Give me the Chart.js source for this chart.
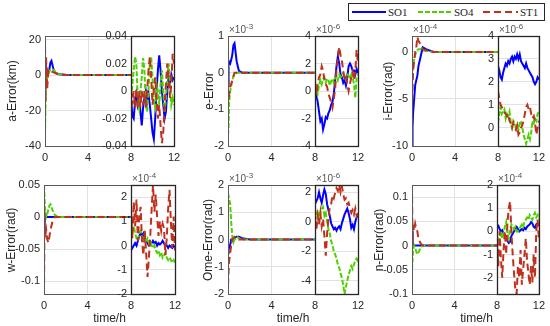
<!DOCTYPE html>
<html>
<head>
<meta charset="utf-8">
<script src="https://cdn.jsdelivr.net/npm/chart.js@4.4.1/dist/chart.umd.min.js"></script>
<style>
  body { margin: 0; background: #fff; }
  #wrap { position: relative; width: 550px; height: 326px; overflow: hidden;
          font-family: "Liberation Sans", Arial, sans-serif; color: #262626; }
  canvas { position: absolute; left: 0; top: 0; }
  .ylab { position: absolute; font-size: 12px; white-space: nowrap;
          transform: translate(-50%, -50%) rotate(-90deg); }
  .xlab { position: absolute; font-size: 12px; white-space: nowrap; transform: translate(-50%, -50%); }
  .exp { position: absolute; font-size: 10px; line-height: 12px; color: #555; white-space: nowrap; }
  .exp sup { font-size: 8px; line-height: 0; vertical-align: 4px; }
  #legend { position: absolute; left: 348px; top: 3px; width: 195px; height: 16px;
            border: 1px solid #262626; background: #fff;
            font-family: "Liberation Serif", "Times New Roman", serif; font-size: 11px; }
  #legend span { position: absolute; top: 1px; line-height: 14px; }
  #legend svg { position: absolute; left: 0; top: 0; }
</style>
</head>
<body>
<div id="wrap">
  <div id="legend">
    <svg width="195" height="16">
      <line x1="3" y1="8" x2="37" y2="8" stroke="#0000ff" stroke-width="2"/>
      <line x1="69" y1="8" x2="104" y2="8" stroke="#4fd000" stroke-width="2" stroke-dasharray="5,2"/>
      <line x1="134" y1="8" x2="169" y2="8" stroke="#c0301c" stroke-width="2" stroke-dasharray="7,4"/>
    </svg>
    <span style="left:39px">SO1</span>
    <span style="left:105px">SO4</span>
    <span style="left:171px">ST1</span>
  </div>
</div>
<script>
// series names
const seriesNames = ['SO1', 'SO4', 'ST1'];

// time axes (hours)
const mainT = [0, 0.05, 0.1, 0.2, 0.3, 0.4, 0.5, 0.6, 0.8, 1.0, 1.3, 2, 8];
const insetT = [8, 8.125, 8.25, 8.375, 8.5, 8.625, 8.75, 8.875, 9, 9.125, 9.25, 9.375, 9.5, 9.625, 9.75, 9.875,
  10, 10.125, 10.25, 10.375, 10.5, 10.625, 10.75, 10.875, 11, 11.125, 11.25, 11.375, 11.5, 11.625, 11.75, 11.875, 12];

// a-Error (km)
const aMainSO1 = [0, 7, 5, 2, 1, 3, 7, 8, 3, 1, 0.5, 0, 0];
const aMainSO4 = [-35, -15, -5, -2, 0, 2, 3, 3, 3, 1.5, 0.5, 0, 0];
const aMainST1 = [22, -15, 10, -8, 2, 1, 2, 2, 1.5, 1, 0.5, 0, 0];
const aInsetSO1 = [-0.005, -0.018, -0.02, -0.008, -0.002, -0.01, -0.005, -0.015, -0.025, -0.012, -0.005, 0, -0.008, -0.002, -0.01, -0.02,
  -0.03, -0.035, -0.02, 0, 0.015, 0.026, 0.015, 0, -0.01, -0.02, -0.015, 0, 0.01, 0.005, 0.012, 0.008, 0.01];
const aInsetSO4 = [-0.01, 0.005, 0.015, 0.025, 0.02, -0.005, -0.012, 0, 0.01, 0.024, 0.015, -0.01, -0.015, 0, 0.02, 0.025,
  0.01, -0.008, -0.012, 0.005, 0, -0.01, 0.005, 0.015, 0, -0.015, -0.005, 0.01, 0.02, 0.005, -0.01, -0.005, -0.01];
const aInsetST1 = [0, -0.01, 0, -0.012, 0.002, -0.012, 0, -0.012, 0, -0.01, 0, -0.012, 0, 0.015, 0.025, 0.01,
  -0.01, 0, 0.01, -0.005, -0.02, -0.01, -0.025, -0.038, -0.03, -0.01, 0.005, 0.02, 0.01, -0.005, 0.005, 0.027, 0.02];

// e-Error (main x1e-3, inset x1e-6)
const eMainSO1 = [-0.3, 0.25, 0.3, 0.25, 0.35, 0.5, 0.75, 0.8, 0.3, 0.05, 0, 0, 0];
const eMainSO4 = [-1.7, -1.5, -0.8, -0.5, -0.35, -0.2, -0.1, -0.05, 0, 0, 0, 0, 0];
const eMainST1 = [0.1, -0.4, -0.6, -0.4, -0.3, -0.2, -0.1, 0, 0, 0, 0, 0, 0];
const eInsetSO1 = [0, -0.3, -0.8, -1.5, -2.2, -2, -2.8, -2.4, -1.9, -2, -1.6, -1.4, -1, -0.8, -0.2, 0.8,
  1.8, 2.5, 2, 1.2, 1, 0.6, 0.8, 0.4, 1, 1.8, 2, 1.8, 1.5, 1.5, 1.2, 1.6, 1.3];
const eInsetSO4 = [0, 0.3, -0.2, 0.4, 0.8, 0.5, 0.9, 1, 0.6, 0.9, 0.8, 0.4, 0.7, 0.9, 0.6, 1,
  1.1, 0.8, 1.2, 1, 1.1, 1.3, 1, 0.8, 1.2, 1.1, 0.9, 1.2, 1, 0.5, -0.5, 1, 1.2];
const eInsetST1 = [0.2, -0.3, 0.5, 1, 1.2, 1.8, 1.5, 0.8, 0.5, 0.3, -0.2, -0.5, -0.8, -1.2, -0.6, 0.2,
  1.5, 2.5, 3.2, 2.6, 2.2, 1.5, 0.8, 1, 0.5, 0, 0.5, 1, 1.4, 0.8, 1.5, 3, 2];

// i-Error (main x1e-4, inset x1e-6)
const iMainSO1 = [-10, -8, -6.5, -5, -3.5, -3, -2.5, -1.5, -0.5, 0.5, 0.3, 0, 0];
const iMainSO4 = [-1.5, -2.5, -1.5, -0.8, -0.3, 0, 0.2, 0.3, 0.3, 0.2, 0.1, 0, 0];
const iMainST1 = [-6.5, -4, -2, -1, 0, 0.5, 1.6, 1.2, 0.8, 0.3, 0.2, 0, 0];
const iInsetSO1 = [2.7, 2.5, 2.2, 2.1, 2.4, 2.6, 2.8, 2.7, 2.9, 2.8, 3, 3.1, 2.9, 3.1, 3, 3.2,
  3, 3.2, 2.9, 2.8, 2.7, 2.6, 2.8, 2.6, 2.5, 2.4, 2.3, 2.2, 2, 1.9, 2, 2.2, 2.1];
const iInsetSO4 = [0.2, 0.6, 0.9, 0.6, 0.7, 0.8, 0.4, 0.6, 0.5, 0.7, 0.2, 0, 0.3, 0.2, 0, 0.1,
  -0.1, 0.2, 0.3, 0, -0.3, -0.5, -0.7, -0.5, -0.3, -0.5, -0.2, 0.3, 0.2, 0.4, 0.3, 0.6, 0.7];
const iInsetST1 = [1.6, 1.3, 1, 0.9, 0.8, 0.7, 0.6, 0.5, 0.6, 0.3, 0.2, 0, 0.2, 0, -0.1, 0.1,
  -0.3, -0.2, 0, 0.1, 0.3, 0.6, 0.9, 1, 0.8, 0.9, 0.6, 0.4, 0.5, 0.2, -0.3, 0, 0.3];

// w-Error (main rad, inset x1e-4)
const wMainSO1 = [-0.03, -0.01, 0, 0.002, 0, 0, 0, 0, 0, 0, 0, 0, 0];
const wMainSO4 = [0.05, 0.03, 0.01, 0, 0.005, 0.012, 0.018, 0.02, 0.01, 0.003, 0, 0, 0];
const wMainST1 = [-0.12, 0.01, -0.03, -0.02, -0.035, -0.04, -0.03, -0.02, -0.005, 0, 0, 0, 0];
const wInsetSO1 = [-0.2, -0.1, 0, 0.1, 0, 0.2, 0.4, 0.5, 0.4, 0.5, 0.3, 0.2, 0.1, 0, 0.05, 0.1,
  0.2, 0.1, 0.15, 0, 0.1, 0.05, 0.1, 0.2, 0.1, 0, 0, -0.1, 0, -0.05, -0.1, 0, -0.1];
const wInsetSO4 = [0.3, 0.6, 0.8, 0.5, 0.3, 0.2, 0.5, 0.6, 0.4, 0.3, 0.5, 0.2, 0.3, 0.1, 0.2, 0,
  -0.1, 0, -0.2, -0.3, -0.2, -0.4, -0.3, -0.5, -0.4, -0.3, -0.5, -0.6, -0.5, -0.6, -0.7, -0.6, -0.7];
const wInsetST1 = [1.5, 0.3, 1.8, 0.8, 1.9, 0.2, 1.2, 1.6, 0.2, -0.4, 0.6, -0.3, -1.3, -0.5, 0.4, 1.5,
  2.5, 1.4, 2.1, 1.2, 0.4, 1, 0.6, 0.9, 0.7, -0.4, 0.3, 1.5, 2.3, 1, -0.1, 1.2, -0.2];

// Ome-Error (main x1e-3, inset x1e-6)
const oMainSO1 = [-0.5, -0.4, -0.3, -0.2, 0, 0, 0.05, 0.05, 0.1, 0.1, 0.05, 0, 0];
const oMainSO4 = [1.7, 1.6, 1.5, 1.3, 0.6, 0.1, -0.1, 0, 0.1, 0.05, 0, 0, 0];
const oMainST1 = [-1.7, -1.2, -0.8, -0.5, -0.2, 0, 0.05, 0.1, 0.05, 0, 0, 0, 0];
const oInsetSO1 = [1.2, 1.4, 1.6, 2, 1.6, 1.3, 1.8, 2.2, 1.9, 1.2, 0.8, 0.4, -0.1, -0.3, -0.5, -0.4,
  -0.6, -0.4, -0.3, -0.5, -0.1, 0.2, 0.5, 0.7, 0.9, 0.6, 0.2, -0.4, -0.2, -0.5, 0, 0.3, 0.5];
const oInsetSO4 = [0, 0.4, 0.8, 0.3, 0.6, 0.9, 1, 0.4, 0.6, 0, -0.5, -0.8, -1.3, -1.6, -2, -2.2,
  -2.5, -2.9, -3.1, -3.5, -3.8, -4.3, -4.9, -4.4, -4, -3.6, -3.3, -3, -3.2, -2.9, -2.6, -2.5, -2.7];
const oInsetST1 = [0, -0.6, 0.4, -0.2, 0.6, -0.3, 0.2, -1, -2.3, -0.8, 0.2, 1, 1.2, 1.8, 1.6, 2,
  2.3, 2.1, 2.5, 2, 2.4, 1.9, 1.5, 1.6, 1.2, 1.3, 0.9, 0.6, 0.8, 0.5, 0.9, 0.4, 0.6];

// n-Error (main rad, inset x1e-4)
const nMainSO1 = [0.03, 0.01, 0, 0, 0, 0, 0, 0, 0, 0, 0, 0, 0];
const nMainSO4 = [-0.05, -0.03, -0.01, 0, -0.005, -0.012, -0.018, -0.015, -0.005, 0, 0, 0, 0];
const nMainST1 = [0.125, 0, 0.04, 0.03, 0.045, 0.035, 0.03, 0.015, 0.005, 0, 0, 0, 0];
const nInsetSO1 = [0.3, 0.25, 0.1, 0, 0.05, -0.1, -0.15, -0.3, -0.4, -0.5, -0.45, -0.2, -0.1, 0, 0.15, 0.2,
  0.1, 0, 0.05, 0.1, 0.05, 0.15, 0.1, 0.2, 0.25, 0.3, 0.4, 0.35, 0.2, 0.15, 0.3, 0.35, 0.25];
const nInsetSO4 = [-0.2, -0.4, -0.5, 0, -0.3, -0.1, 0.2, 0.4, -0.1, -0.3, 0.1, 0.3, 0.2, 0.1, 0.2, 0,
  0, 0.1, 0.2, 0.3, 0.2, 0.4, 0.5, 0.6, 0.5, 0.7, 0.6, 0.5, 0.7, 0.8, 0.6, 0.7, 0.5];
const nInsetST1 = [-0.5, -1.5, 0, -1.2, -2, -0.8, 0, -1, 0.4, 1, 1.3, 0, -1, -1.8, -2.5, -2.7,
  -1.5, -2, -0.8, -2.3, -1.6, -1, -0.3, -1.3, -1.8, -2.3, -1.5, -2.2, -1, -2, 0, 0.5, -0.3];

// tick labels (the shared "8" is labelled by the inset axis)
const mainXTicks = [0, 4];
const insetXTicks = [8, 12];
const aYTicks = [-40, -20, 0, 20];
const aInsetYTicks = [-0.04, -0.02, 0, 0.02, 0.04];
const eYTicks = [-2, -1, 0, 1];
const eInsetYTicks = [-4, -2, 0, 2, 4];
const iYTicks = [-10, -5, 0];
const iInsetYTicks = [0, 1, 2, 3, 4];
const wYTicks = [-0.1, -0.05, 0, 0.05];
const wInsetYTicks = [-2, -1, 0, 1, 2];
const oYTicks = [-2, -1, 0, 1, 2];
const oInsetYTicks = [-4, -2, 0, 2];
const nYTicks = [-0.1, -0.05, 0, 0.05, 0.1];
const nInsetYTicks = [-2, -1, 0, 1, 2];

const colors = ['#0000ff', '#4fd000', '#c0301c'];
const dashes = [[], [5, 2], [7, 4]];

// layout of the six panels (pixels)
const panels = [
  { label: 'a-Error(km)', lx: 12, top: 36, bottom: 146, m: [45, 131], n: [131, 174],
    mY: [-40, 22], mTicks: aYTicks, iY: [-0.04, 0.04], iTicks: aInsetYTicks,
    main: [aMainSO1, aMainSO4, aMainST1], inset: [aInsetSO1, aInsetSO4, aInsetST1], mExp: null, iExp: null },
  { label: 'e-Error', lx: 209, top: 36, bottom: 146, m: [228, 315], n: [315, 358],
    mY: [-2, 1], mTicks: eYTicks, iY: [-4, 4], iTicks: eInsetYTicks,
    main: [eMainSO1, eMainSO4, eMainST1], inset: [eInsetSO1, eInsetSO4, eInsetST1], mExp: '-3', iExp: '-6' },
  { label: 'i-Error(rad)', lx: 388, top: 36, bottom: 146, m: [412, 498], n: [498, 541],
    mY: [-10, 1.7], mTicks: iYTicks, iY: [-0.8, 4], iTicks: iInsetYTicks,
    main: [iMainSO1, iMainSO4, iMainST1], inset: [iInsetSO1, iInsetSO4, iInsetST1], mExp: '-4', iExp: '-6' },
  { label: 'w-Error(rad)', lx: 11, top: 185, bottom: 294, m: [44, 131], n: [131, 175],
    mY: [-0.12, 0.05], mTicks: wYTicks, iY: [-2, 2.5], iTicks: wInsetYTicks,
    main: [wMainSO1, wMainSO4, wMainST1], inset: [wInsetSO1, wInsetSO4, wInsetST1], mExp: null, iExp: '-4' },
  { label: 'Ome-Error(rad)', lx: 208, top: 185, bottom: 294, m: [228, 315], n: [315, 358],
    mY: [-2, 2], mTicks: oYTicks, iY: [-4.9, 2.5], iTicks: oInsetYTicks,
    main: [oMainSO1, oMainSO4, oMainST1], inset: [oInsetSO1, oInsetSO4, oInsetST1], mExp: '-3', iExp: '-6' },
  { label: 'n-Error(rad)', lx: 379, top: 185, bottom: 294, m: [412, 497], n: [497, 541],
    mY: [-0.1, 0.125], mTicks: nYTicks, iY: [-2.7, 2], iTicks: nInsetYTicks,
    main: [nMainSO1, nMainSO4, nMainST1], inset: [nInsetSO1, nInsetSO4, nInsetST1], mExp: null, iExp: '-4' }
];

const wrap = document.getElementById('wrap');
const tickFont = { family: '"Liberation Sans", Arial, sans-serif', size: 11 };
const AXIS_W = 40;   // room kept for y tick labels
const AXIS_H = 20;   // room kept for x tick labels

// draws the full axes box round the plot area
const boxPlugin = {
  id: 'box',
  afterDraw(chart, args, opts) {
    const { ctx, chartArea: a } = chart;
    ctx.save();
    ctx.strokeStyle = opts.color;
    ctx.lineWidth = opts.width;
    ctx.strokeRect(Math.round(a.left) + 0.5, Math.round(a.top) + 0.5,
      Math.round(a.right - a.left), Math.round(a.bottom - a.top));
    ctx.restore();
  }
};

function fmt(v) {
  return String(+v.toFixed(4));
}

function makeChart(xr, top, bottom, xMin, xMax, yMin, yMax, xTicks, yTicks, times, series, isInset) {
  const cv = document.createElement('canvas');
  cv.width = 550;
  cv.height = 326;
  wrap.insertBefore(cv, document.getElementById('legend'));

  new Chart(cv, {
    type: 'line',
    data: {
      datasets: series.map((vals, k) => ({
        label: seriesNames[k],
        data: times.map((t, i) => ({ x: t, y: vals[i] })),
        borderColor: colors[k],
        borderWidth: 2,
        borderDash: dashes[k],
        pointRadius: 0,
        tension: 0,
        fill: false,
        order: 2 - k
      }))
    },
    options: {
      responsive: false,
      animation: false,
      devicePixelRatio: 1,
      events: [],
      layout: { padding: { left: xr[0] - AXIS_W, top: top, right: 550 - xr[1], bottom: 326 - bottom - AXIS_H } },
      plugins: {
        legend: { display: false },
        tooltip: { enabled: false },
        box: { color: isInset ? '#262626' : '#5a5a5a', width: isInset ? 1.3 : 1 }
      },
      scales: {
        x: {
          type: 'linear', min: xMin, max: xMax,
          afterFit: s => { s.height = AXIS_H; },
          afterBuildTicks: s => { s.ticks = xTicks.map(v => ({ value: v })); },
          ticks: { font: tickFont, color: '#262626', padding: 5, maxRotation: 0, autoSkip: false, callback: fmt },
          grid: { color: '#e2e2e2', drawTicks: false },
          border: { display: false }
        },
        y: {
          type: 'linear', min: yMin, max: yMax,
          afterFit: s => { s.width = AXIS_W; },
          afterBuildTicks: s => { s.ticks = yTicks.map(v => ({ value: v })); },
          ticks: { font: tickFont, color: '#262626', padding: 4, autoSkip: false, callback: fmt },
          grid: { color: '#e2e2e2', drawTicks: false },
          border: { display: false }
        }
      }
    },
    plugins: [boxPlugin]
  });
}

function addText(cls, x, y, html) {
  const d = document.createElement('div');
  d.className = cls;
  d.style.left = x + 'px';
  d.style.top = y + 'px';
  d.innerHTML = html;
  wrap.appendChild(d);
}

panels.forEach((p, idx) => {
  makeChart(p.m, p.top, p.bottom, 0, 8, p.mY[0], p.mY[1], mainXTicks, p.mTicks, mainT, p.main, false);
  makeChart(p.n, p.top, p.bottom, 8, 12, p.iY[0], p.iY[1], insetXTicks, p.iTicks, insetT, p.inset, true);

  addText('ylab', p.lx, (p.top + p.bottom) / 2, p.label);
  const expTop = p.top - 12;
  if (p.mExp) addText('exp', p.m[0] + 1, expTop, '&times;10<sup>' + p.mExp + '</sup>');
  if (p.iExp) addText('exp', p.n[0] + 1, expTop, '&times;10<sup>' + p.iExp + '</sup>');
  if (idx >= 3) addText('xlab', (p.m[0] + p.n[1]) / 2, 318, 'time/h');
});
</script>
</body>
</html>
